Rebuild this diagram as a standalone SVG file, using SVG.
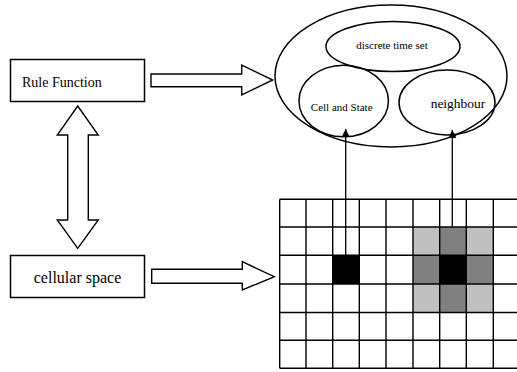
<svg xmlns="http://www.w3.org/2000/svg" width="517" height="372" viewBox="0 0 517 372">
<defs>
<style>
.box{fill:#fff;stroke:#000;stroke-width:1.5}
.fat{fill:#fff;stroke:#000;stroke-width:1.4;stroke-linejoin:miter}
.ell{fill:none;stroke:#000;stroke-width:1.5}
.t{font-family:"Liberation Serif","Times New Roman",serif;fill:#000}
.g{stroke:#000;stroke-width:1.4;fill:none}
.ln{stroke:#000;stroke-width:1.3;fill:none}
</style>
<marker id="ah" viewBox="0 0 8 10" refX="8" refY="5" markerWidth="8" markerHeight="10" markerUnits="userSpaceOnUse" orient="auto">
<path d="M0,1 L8,5 L0,9 Z" fill="#000"/>
</marker>
</defs>
<rect width="517" height="372" fill="#fff"/>
<g id="rule-function">
<rect class="box" x="10.5" y="59.5" width="134" height="42"/>
<text class="t" x="22" y="87" font-size="14">Rule Function</text>
</g>
<g id="cellular-space">
<rect class="box" x="10.5" y="255.5" width="134" height="42"/>
<text class="t" x="77.5" y="283" font-size="16" text-anchor="middle">cellular space</text>
</g>
<g id="concept-set">
<ellipse class="ell" cx="391" cy="76" rx="116" ry="71"/>
<g id="discrete-time-set">
<ellipse class="ell" cx="393" cy="46.5" rx="67" ry="25"/>
<text class="t" x="392" y="49" font-size="11" text-anchor="middle">discrete time set</text>
</g>
<g id="cell-and-state">
<ellipse class="ell" cx="343.7" cy="101" rx="44.7" ry="35.8"/>
<text class="t" x="341.7" y="111" font-size="11" text-anchor="middle">Cell and State</text>
</g>
<g id="neighbour">
<ellipse class="ell" cx="447" cy="102.5" rx="48" ry="32.5"/>
<text class="t" x="458" y="107.5" font-size="13.5" text-anchor="middle">neighbour</text>
</g>
</g>
<g id="grid">
<rect x="332.7" y="255.3" width="26.7" height="28.7" fill="#000"/>
<rect x="413" y="227" width="26.7" height="28.3" fill="#c0c0c0"/>
<rect x="466.3" y="227" width="27" height="28.3" fill="#c0c0c0"/>
<rect x="413" y="284" width="26.7" height="28.5" fill="#c0c0c0"/>
<rect x="466.3" y="284" width="27" height="28.5" fill="#c0c0c0"/>
<rect x="439.7" y="227" width="26.6" height="28.3" fill="#808080"/>
<rect x="439.7" y="284" width="26.6" height="28.5" fill="#808080"/>
<rect x="413" y="255.3" width="26.7" height="28.7" fill="#808080"/>
<rect x="466.3" y="255.3" width="27" height="28.7" fill="#808080"/>
<rect x="439.7" y="255.3" width="26.6" height="28.7" fill="#000"/>
<path class="g" d="M279.7,199.3V368.3M306,199.3V368.3M332.7,199.3V368.3M359.3,199.3V368.3M386,199.3V368.3M413,199.3V368.3M439.7,199.3V368.3M466.3,199.3V368.3M493.3,199.3V368.3M279.7,199.3H517M279.7,227H517M279.7,255.3H517M279.7,284H517M279.7,312.5H517M279.7,340.3H517M279.7,368.3H517"/>
</g>
<g id="connectors">
<path class="fat" d="M151,74 H241.7 V65 L272.7,80 L241.7,95 V86.7 H151 Z"/>
<path class="fat" d="M151.7,269.3 H242.3 V261.7 L274.3,276.7 L242.3,290 V283.3 H151.7 Z"/>
<path class="fat" d="M77.7,106 L98.3,135 H88.3 V220 H98.3 L77.7,248.3 L57.3,220 H67.7 V135 H57.3 Z"/>
<line class="ln" x1="345.7" y1="255.3" x2="345.7" y2="129" marker-end="url(#ah)"/>
<line class="ln" x1="452.3" y1="227" x2="452.3" y2="130" marker-end="url(#ah)"/>
</g>
</svg>
